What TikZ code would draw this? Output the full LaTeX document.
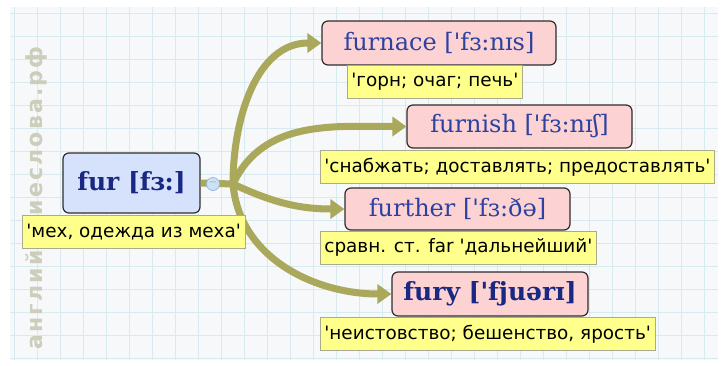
\documentclass[tikz,border=0pt]{standalone}
\usepackage{fontspec}
\newfontfamily\wordfont{DejaVu Serif}
\newfontfamily\lblfont{DejaVu Sans}
\newfontfamily\wmfont[LetterSpace=10]{DejaVu Sans}
\usetikzlibrary{arrows.meta,positioning}

\definecolor{gridbg}{RGB}{246,248,250}
\definecolor{gridline}{RGB}{214,234,240}
\definecolor{wmark}{RGB}{205,205,188}
\definecolor{olivebr}{RGB}{170,168,90}
\definecolor{pinkfill}{RGB}{252,210,210}
\definecolor{bluefill}{RGB}{214,226,252}
\definecolor{boxedge}{RGB}{45,45,45}
\definecolor{glossfill}{RGB}{255,255,140}
\definecolor{glossedge}{RGB}{170,170,140}
\definecolor{wordblue}{RGB}{45,65,160}
\definecolor{headblue}{RGB}{25,40,130}
\definecolor{togfill}{RGB}{205,225,245}
\definecolor{togedge}{RGB}{150,185,220}

\tikzset{
  wordbox/.style={draw=boxedge,line width=1.2pt,rounded corners=6pt,fill=pinkfill,
    text=wordblue,font=\wordfont\fontsize{24}{26}\selectfont,inner sep=0pt},
  boldword/.style={font=\wordfont\bfseries\fontsize{25}{27}\selectfont,text=headblue},
  headbox/.style={wordbox,boldword,fill=bluefill},
  gloss/.style={draw=glossedge,fill=glossfill,line width=0.8pt,anchor=north west,
    font=\lblfont\fontsize{18.4}{20}\selectfont,inner xsep=4pt,inner ysep=0pt,minimum height=33},
  stem/.style={draw=olivebr,line width=7pt},
  branch/.style={stem,-{Triangle[length=14pt,width=19pt]}},
  toggle/.style={circle,draw=togedge,fill=togfill,line width=0.8pt,minimum size=13,
    inner sep=0pt,font=\lblfont\fontsize{10}{10}\selectfont,text=togedge},
}

\begin{document}
\begin{tikzpicture}[x=1pt,y=-1pt]
\useasboundingbox (0,0) rectangle (728,365);
\fill[white] (0,0) rectangle (728,365);
\fill[gridbg] (10,7) rectangle (718,360);
\foreach \gx in {14,37,...,714} \draw[gridline,line width=0.8pt] (\gx,7) -- (\gx,360);
\foreach \gy in {13,36,...,359} \draw[gridline,line width=0.8pt] (10,\gy) -- (718,\gy);
\node[rotate=90,text=wmark,font=\wmfont\bfseries\fontsize{22}{24}\selectfont] (wm) at (36,198) {английскиеслова.рф};

% head word
\node[headbox,minimum width=137,minimum height=60] (fur) at (131.5,183) {fur [fɜ:]};
\coordinate (hub) at (233,184);
\draw[stem] (fur.east) -- (hub);
\node[toggle] (tog) at (213,184) {−};

% derived words
\node[wordbox,minimum width=234,minimum height=44] (furnace) at (439,43) {furnace ['fɜ:nɪs]};
\node[wordbox,minimum width=225,minimum height=43] (furnish) at (519.5,126.5) {furnish ['fɜ:nɪʃ]};
\node[wordbox,minimum width=225,minimum height=42] (further) at (457.5,209) {further ['fɜ:ðə]};
\node[wordbox,boldword,minimum width=196,minimum height=44] (fury) at (490,294) {fury ['fjuərɪ]};

\draw[branch] (hub) to[out=90,in=180] (furnace.west);
\draw[branch] (hub) to[out=65,in=180] (furnish.west);
\draw[branch] (hub) to[out=-25,in=180] (further.west);
\draw[branch] (hub) to[out=-85,in=180] (fury.west);

% glosses
\node[gloss] (furG) at (22,215) {'мех, одежда из меха'};
\node[gloss] (furnaceG) at (347,65) {'горн; очаг; печь'};
\node[gloss] (furnishG) at (320,150) {'снабжать; доставлять; предоставлять'};
\node[gloss] (furtherG) at (320,231) {сравн. ст. far 'дальнейший'};
\node[gloss] (furyG) at (320,317) {'неистовство; бешенство, ярость'};
\end{tikzpicture}
\end{document}
